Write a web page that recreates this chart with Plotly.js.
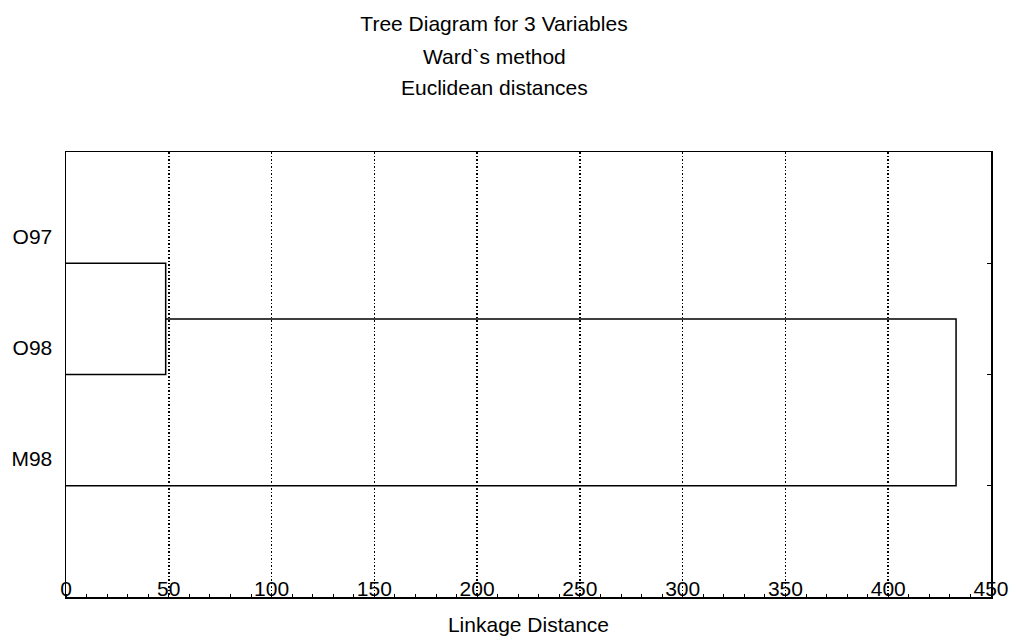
<!DOCTYPE html>
<html>
<head>
<meta charset="utf-8">
<script src="https://cdn.plot.ly/plotly-3.0.1.min.js"></script>
<style>
  html, body { margin: 0; padding: 0; background: #ffffff; }
  #chart { width: 1014px; height: 637px; }
</style>
</head>
<body>
<div id="chart"></div>
<script>
// Leaves of the tree, bottom to top, and their positions on the vertical axis
const leaves = ['M98', 'O98', 'O97'];
const leafPositions = [1, 2, 3];

// Ward's method linkage steps: which two clusters join and at what distance
const joinFirst = ['O97', 'O98'];
const joinFirstDistance = 48.5;
const joinSecond = ['O97+O98', 'M98'];
const joinSecondDistance = 433;

// Axis ticks
const xTickValues = [0, 50, 100, 150, 200, 250, 300, 350, 400, 450];

const pos = {};
leaves.forEach((name, i) => { pos[name] = leafPositions[i]; });
const firstMid = (pos[joinFirst[0]] + pos[joinFirst[1]]) / 2;
pos[joinSecond[0]] = firstMid;

const lineStyle = { color: '#000000', width: 1.5 };

// First join: bracket from O97 across to its merge height and back to O98
const link1 = {
  type: 'scatter', mode: 'lines', hoverinfo: 'skip', showlegend: false,
  x: [0, joinFirstDistance, joinFirstDistance, 0],
  y: [pos[joinFirst[0]], pos[joinFirst[0]], pos[joinFirst[1]], pos[joinFirst[1]]],
  line: lineStyle
};

// Second join: from the O97/O98 cluster to M98
const link2 = {
  type: 'scatter', mode: 'lines', hoverinfo: 'skip', showlegend: false,
  x: [joinFirstDistance, joinSecondDistance, joinSecondDistance, 0],
  y: [pos[joinSecond[0]], pos[joinSecond[0]], pos[joinSecond[1]], pos[joinSecond[1]]],
  line: lineStyle
};

const fontFamily = 'Liberation Sans, Arial, sans-serif';
const textSize = 21;

const layout = {
  width: 1014,
  height: 637,
  paper_bgcolor: '#ffffff',
  plot_bgcolor: '#ffffff',
  margin: { l: 66, r: 23, t: 152, b: 40 },
  font: { family: fontFamily, size: textSize, color: '#000000' },
  title: {
    text: 'Tree Diagram for 3 Variables',
    font: { family: fontFamily, size: textSize, color: '#000000' },
    x: 494 / 1014, xanchor: 'center', xref: 'container',
    y: 1 - 24 / 637, yanchor: 'middle', yref: 'container'
  },
  annotations: [
    {
      text: 'Ward`s method', showarrow: false,
      xref: 'paper', yref: 'paper', x: (494 - 66) / 925, y: (597 - 56) / 445,
      xanchor: 'center', yanchor: 'middle',
      font: { family: fontFamily, size: textSize, color: '#000000' }
    },
    {
      text: 'Euclidean distances', showarrow: false,
      xref: 'paper', yref: 'paper', x: (494 - 66) / 925, y: (597 - 88) / 445,
      xanchor: 'center', yanchor: 'middle',
      font: { family: fontFamily, size: textSize, color: '#000000' }
    }
  ],
  xaxis: {
    range: [0, 450],
    tickvals: xTickValues,
    ticktext: xTickValues.map(String),
    ticks: '',
    ticklabelposition: 'inside',
    ticklabeloverflow: 'allow',
    ticklabelstandoff: -2,
    tickfont: { family: fontFamily, size: textSize, color: '#000000' },
    showgrid: true,
    gridcolor: '#000000',
    gridwidth: 1.5,
    griddash: '1.5px,2px',
    minor: { dtick: 10, ticks: 'inside', ticklen: 3, tickcolor: '#000000', tickwidth: 1, showgrid: false },
    showline: true,
    mirror: true,
    linecolor: '#000000',
    linewidth: 1.5,
    zeroline: false,
    fixedrange: true,
    title: {
      text: 'Linkage Distance',
      font: { family: fontFamily, size: textSize, color: '#000000' },
      standoff: 18
    }
  },
  yaxis: {
    range: [0, 4],
    tickvals: leafPositions,
    ticktext: leaves,
    ticks: 'inside',
    ticklen: 4,
    tickcolor: '#000000',
    tickwidth: 1,
    ticklabelshift: -27,
    ticklabelstandoff: 8,
    tickfont: { family: fontFamily, size: textSize, color: '#000000' },
    showgrid: false,
    showline: true,
    mirror: 'ticks',
    linecolor: '#000000',
    linewidth: 1.5,
    zeroline: false,
    fixedrange: true
  }
};

Plotly.newPlot('chart', [link1, link2], layout, { displayModeBar: false, staticPlot: true });
</script>
</body>
</html>
